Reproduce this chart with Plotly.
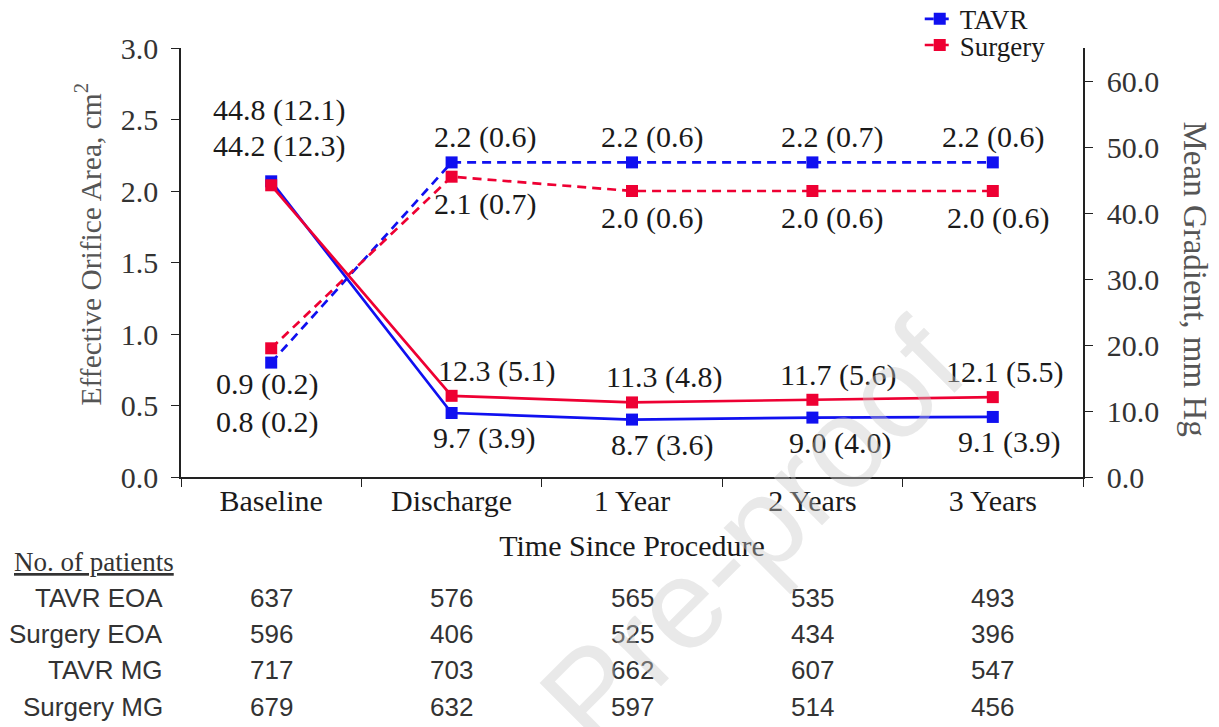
import plotly.graph_objects as go

categories = ["Baseline", "Discharge", "1 Year", "2 Years", "3 Years"]

tavr_eoa = [0.8, 2.2, 2.2, 2.2, 2.2]
tavr_eoa_sd = [0.2, 0.6, 0.6, 0.7, 0.6]
surg_eoa = [0.9, 2.1, 2.0, 2.0, 2.0]
surg_eoa_sd = [0.2, 0.7, 0.6, 0.6, 0.6]

tavr_mg = [44.8, 9.7, 8.7, 9.0, 9.1]
tavr_mg_sd = [12.1, 3.9, 3.6, 4.0, 3.9]
surg_mg = [44.2, 12.3, 11.3, 11.7, 12.1]
surg_mg_sd = [12.3, 5.1, 4.8, 5.6, 5.5]

table_rows = ["TAVR EOA", "Surgery EOA", "TAVR MG", "Surgery MG"]
table_tavr_eoa_n = [637, 576, 565, 535, 493]
table_surg_eoa_n = [596, 406, 525, 434, 396]
table_tavr_mg_n = [717, 703, 662, 607, 547]
table_surg_mg_n = [679, 632, 597, 514, 456]

BLUE = "#1010f0"
RED = "#ee0033"
SERIF = "Liberation Serif, Times New Roman, serif"
SANS = "Liberation Sans, Arial, sans-serif"
FS = 30
TXT = "#1a1a1a"

fig = go.Figure()
fig.add_trace(go.Scatter(x=categories, y=tavr_eoa, name="TAVR", mode="lines+markers",
                         legend="legend",
                         line=dict(color=BLUE, width=2.7, dash="9px,6px"),
                         marker=dict(symbol="square", size=12, color=BLUE)))
fig.add_trace(go.Scatter(x=categories, y=surg_eoa, name="Surgery", mode="lines+markers",
                         legend="legend2",
                         line=dict(color=RED, width=2.7, dash="9px,6px"),
                         marker=dict(symbol="square", size=12, color=RED)))
fig.add_trace(go.Scatter(x=categories, y=tavr_mg, name="TAVR MG", mode="lines+markers",
                         yaxis="y2", showlegend=False,
                         line=dict(color=BLUE, width=2.7),
                         marker=dict(symbol="square", size=12, color=BLUE)))
fig.add_trace(go.Scatter(x=categories, y=surg_mg, name="Surgery MG", mode="lines+markers",
                         yaxis="y2", showlegend=False,
                         line=dict(color=RED, width=2.7),
                         marker=dict(symbol="square", size=12, color=RED)))

ann = []
def lab(m, s):
    return f"{m:.1f} ({s:.1f})"

# label offsets (pixels) per category
eoa_xs = [-4, 33, 20, 20, 0]
mg_up_xs = [8, 45, 32, 26, 12]
mg_dn_xs = [8, 32, 30, 28, 16]
for i, c in enumerate(categories):
    if i == 0:
        ann.append(dict(x=c, y=surg_eoa[i], yref="y", text=lab(surg_eoa[i], surg_eoa_sd[i]),
                        xshift=eoa_xs[i], yshift=-36))
        ann.append(dict(x=c, y=tavr_eoa[i], yref="y", text=lab(tavr_eoa[i], tavr_eoa_sd[i]),
                        xshift=eoa_xs[i], yshift=-59))
        ann.append(dict(x=c, y=tavr_mg[i], yref="y2", text=lab(tavr_mg[i], tavr_mg_sd[i]),
                        xshift=mg_up_xs[i], yshift=71))
        ann.append(dict(x=c, y=surg_mg[i], yref="y2", text=lab(surg_mg[i], surg_mg_sd[i]),
                        xshift=mg_up_xs[i], yshift=39))
    else:
        ann.append(dict(x=c, y=tavr_eoa[i], yref="y", text=lab(tavr_eoa[i], tavr_eoa_sd[i]),
                        xshift=eoa_xs[i], yshift=25))
        ann.append(dict(x=c, y=surg_eoa[i], yref="y", text=lab(surg_eoa[i], surg_eoa_sd[i]),
                        xshift=eoa_xs[i] + (5 if i == 4 else 0), yshift=-27))
        ann.append(dict(x=c, y=surg_mg[i], yref="y2", text=lab(surg_mg[i], surg_mg_sd[i]),
                        xshift=mg_up_xs[i], yshift=25))
        ann.append(dict(x=c, y=tavr_mg[i], yref="y2", text=lab(tavr_mg[i], tavr_mg_sd[i]),
                        xshift=mg_dn_xs[i], yshift=-25))
for a in ann:
    a.update(xref="x", showarrow=False, xanchor="center", yanchor="middle",
             font=dict(family=SERIF, size=FS, color=TXT))

# axis titles
ann.append(dict(xref="paper", yref="paper", x=0, y=0.5, xshift=-93, yshift=18,
                xanchor="center", yanchor="middle", showarrow=False,
                text="Effective Orifice Area, cm<sup>2</sup>", textangle=-90,
                font=dict(family=SERIF, size=29.5, color="#555")))
ann.append(dict(xref="paper", yref="paper", x=1, y=0.5, xshift=112, yshift=-16,
                xanchor="center", yanchor="middle", showarrow=False,
                text="Mean Gradient, mm Hg", textangle=90,
                font=dict(family=SERIF, size=33, color="#555")))

# patient table
ann.append(dict(xref="paper", yref="paper", x=0, y=0, xshift=-169, yshift=-85,
                xanchor="left", yanchor="middle", showarrow=False, text="<u>No. of patients</u>",
                font=dict(family=SERIF, size=27, color="#333")))
rows_n = [table_tavr_eoa_n, table_surg_eoa_n, table_tavr_mg_n, table_surg_mg_n]
row_shift = [-121, -157, -193, -230]
for r, name in enumerate(table_rows):
    ann.append(dict(xref="paper", yref="paper", x=0, y=0, xshift=-16, yshift=row_shift[r],
                    xanchor="right", yanchor="middle", showarrow=False, text=name,
                    font=dict(family=SANS, size=26, color="#333")))
    for i, c in enumerate(categories):
        ann.append(dict(xref="x", yref="paper", x=c, y=0, yshift=row_shift[r],
                        xanchor="center", yanchor="middle",
                        showarrow=False, text=str(rows_n[r][i]),
                        font=dict(family=SANS, size=26, color="#333")))

# watermark
ann.append(dict(xref="paper", yref="paper", x=0.633, y=-0.13, showarrow=False,
                xanchor="center", yanchor="middle",
                text="Pre-proof", textangle=-45,
                font=dict(family=SANS, size=128, color="rgba(200,200,200,0.4)")))

# page body has an 8px margin: figure is 1211x719 placed at (8, 8)
fig.update_layout(
    width=1211, height=719,
    margin=dict(l=173, r=136, t=40, b=250, autoexpand=False),
    paper_bgcolor="white", plot_bgcolor="white",
    font=dict(family=SERIF, size=FS, color=TXT),
    showlegend=True,
    legend=dict(x=0.819, y=1.124, xanchor="left", yanchor="top",
                font=dict(family=SERIF, size=27, color=TXT),
                bgcolor="rgba(0,0,0,0)", itemwidth=30),
    legend2=dict(x=0.819, y=1.063, xanchor="left", yanchor="top",
                 font=dict(family=SERIF, size=27, color=TXT),
                 bgcolor="rgba(0,0,0,0)", itemwidth=30),
    xaxis=dict(type="category", range=[-0.5, 4.5], showline=True, linecolor="#222",
               linewidth=1.5, ticks="outside", tickson="boundaries", ticklen=8,
               tickcolor="#222", showgrid=False, zeroline=False, ticklabelstandoff=-4,
               tickfont=dict(family=SERIF, size=FS, color=TXT),
               title=dict(text="Time Since Procedure", standoff=19,
                          font=dict(family=SERIF, size=FS, color=TXT))),
    yaxis=dict(range=[0, 3.0], dtick=0.5, tickformat=".1f", showline=True, linecolor="#222",
               linewidth=1.5, ticks="outside", ticklen=8, tickcolor="#222",
               showgrid=False, zeroline=False, ticklabelstandoff=7,
               tickfont=dict(family=SERIF, size=FS, color="#333")),
    yaxis2=dict(range=[0, 65], tickvals=[0, 10, 20, 30, 40, 50, 60], tickformat=".1f",
                overlaying="y", side="right", showline=True, linecolor="#222",
                linewidth=1.5, ticks="outside", ticklen=8, tickcolor="#222",
                showgrid=False, zeroline=False, ticklabelstandoff=8,
                tickfont=dict(family=SERIF, size=FS, color="#333")),
    annotations=ann,
)

fig.write_html("out.html")
